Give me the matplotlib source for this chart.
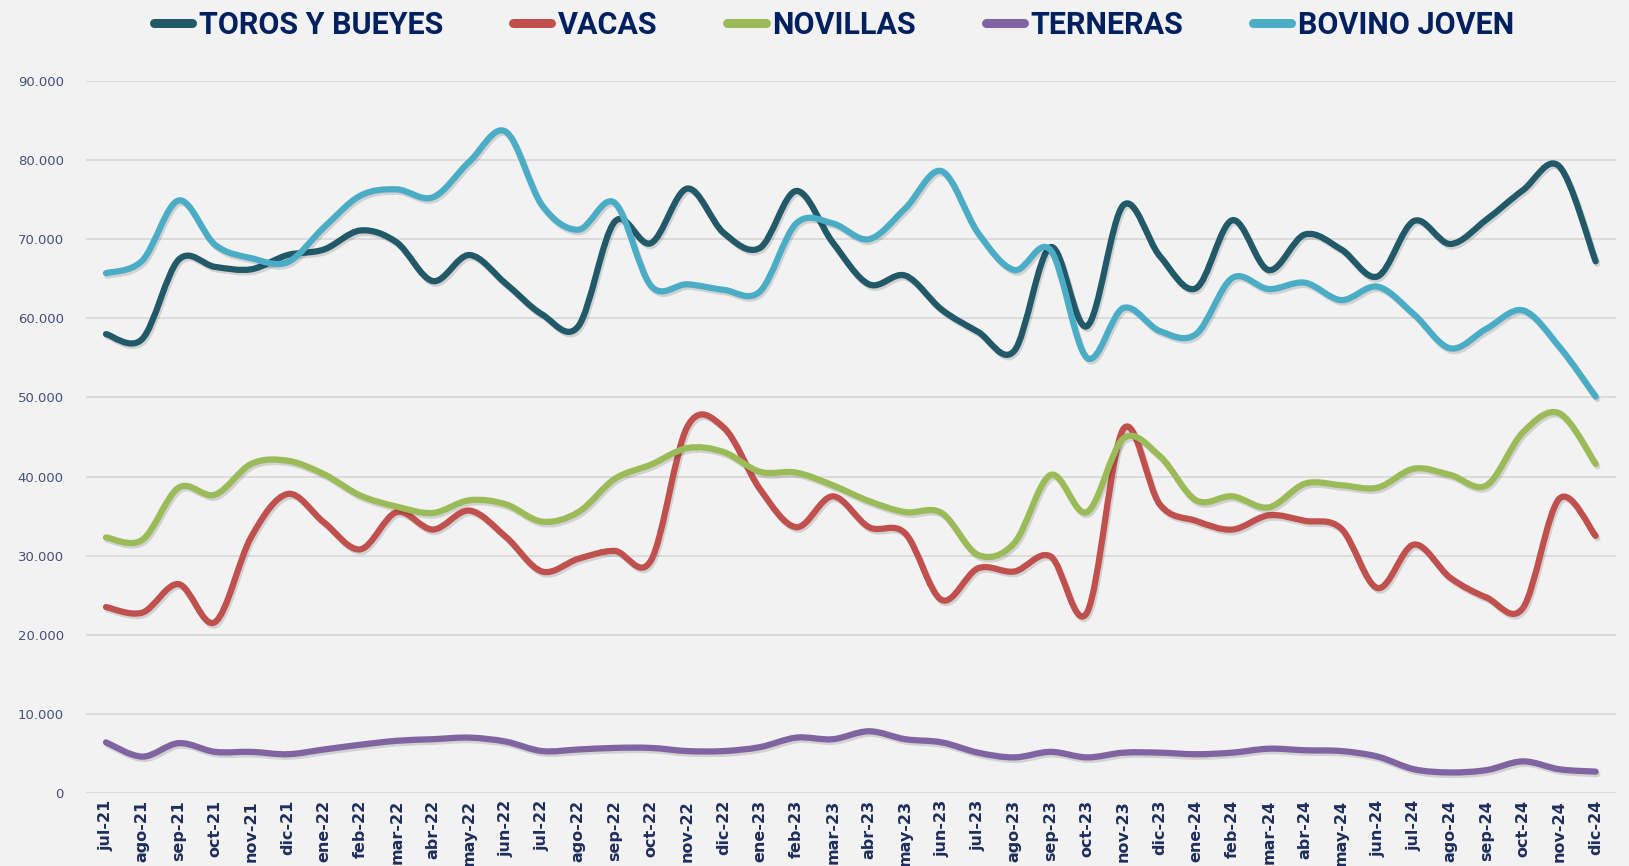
import numpy as np
import matplotlib
matplotlib.use('Agg')
import matplotlib.pyplot as plt
from matplotlib.path import Path
from matplotlib.patches import PathPatch
from matplotlib.lines import Line2D
from matplotlib import patheffects
from matplotlib.ticker import FuncFormatter, MultipleLocator


months = ['jul-21', 'ago-21', 'sep-21', 'oct-21', 'nov-21', 'dic-21',
          'ene-22', 'feb-22', 'mar-22', 'abr-22', 'may-22', 'jun-22',
          'jul-22', 'ago-22', 'sep-22', 'oct-22', 'nov-22', 'dic-22',
          'ene-23', 'feb-23', 'mar-23', 'abr-23', 'may-23', 'jun-23',
          'jul-23', 'ago-23', 'sep-23', 'oct-23', 'nov-23', 'dic-23',
          'ene-24', 'feb-24', 'mar-24', 'abr-24', 'may-24', 'jun-24',
          'jul-24', 'ago-24', 'sep-24', 'oct-24', 'nov-24', 'dic-24']

toros = [58000, 57400, 67400, 66500, 66200, 68000, 68700, 71100, 69600, 64700,
         68000, 64400, 60500, 59000, 72200, 69500, 76400, 70800, 68900, 76100,
         69600, 64300, 65400, 61100, 58300, 55900, 69000, 59000, 74300, 67900,
         63800, 72400, 66100, 70600, 68700, 65300, 72300, 69400, 72500, 76200,
         79200, 67200]

vacas = [23500, 22800, 26400, 21600, 32400, 37800, 34200, 30800, 35500, 33300,
         35700, 32400, 28000, 29600, 30600, 29400, 46300, 46200, 38400, 33600,
         37500, 33600, 32800, 24400, 28400, 28000, 29900, 22800, 46000, 36500,
         34400, 33300, 35100, 34400, 33400, 25900, 31400, 27200, 24700, 23400,
         37200, 32500]

novillas = [32300, 32000, 38600, 37700, 41600, 42000, 40300, 37600, 36200, 35400,
            37000, 36500, 34300, 35500, 39700, 41500, 43600, 43100, 40600, 40500,
            38900, 36900, 35500, 35400, 30100, 31600, 40200, 35500, 44800, 42600,
            37000, 37500, 36100, 39100, 38900, 38600, 41000, 40200, 38900, 45600,
            48000, 41600]

terneras = [6400, 4600, 6300, 5200, 5200, 4900, 5500, 6100, 6600, 6800,
            7000, 6500, 5300, 5500, 5700, 5700, 5300, 5300, 5800, 7000,
            6800, 7800, 6800, 6400, 5100, 4500, 5200, 4500, 5100, 5100,
            4900, 5100, 5600, 5400, 5300, 4600, 3000, 2600, 2900, 4000,
            3000, 2700]

bovino = [65700, 67300, 74900, 69300, 67600, 67100, 71500, 75500, 76300, 75300,
          79800, 83600, 74300, 71200, 74600, 64100, 64300, 63600, 63400, 72000,
          72000, 70000, 73900, 78600, 70800, 66100, 68600, 55000, 61300, 58400,
          58000, 65100, 63700, 64500, 62300, 64000, 60500, 56200, 58700, 61000,
          56400, 50100]

series = [
    ('TOROS Y BUEYES', toros, '#215968'),
    ('VACAS', vacas, '#c0504d'),
    ('NOVILLAS', novillas, '#9bbb59'),
    ('TERNERAS', terneras, '#8064a2'),
    ('BOVINO JOVEN', bovino, '#4bacc6'),
]

BG = '#f2f2f2'


def smooth_path(xs, ys):
    # catmull-rom through the points, like excel's smoothed lines
    pts = np.column_stack([xs, ys]).astype(float)
    padded = np.vstack([pts[0], pts, pts[-1]])
    verts = [pts[0]]
    codes = [Path.MOVETO]
    for i in range(len(pts) - 1):
        p0, p1, p2, p3 = padded[i], padded[i + 1], padded[i + 2], padded[i + 3]
        verts += [p1 + (p2 - p0) / 6, p2 - (p3 - p1) / 6, p2]
        codes += [Path.CURVE4] * 3
    return Path(verts, codes)


fig = plt.figure(figsize=(16.29, 8.66), dpi=100, facecolor=BG)
ax = fig.add_axes([0.0528, 0.0843, 0.939, 0.8222], facecolor=BG)

x = np.arange(len(months))
shadow = [patheffects.SimpleLineShadow(offset=(1.2, -1.8), shadow_color='k', alpha=0.13),
          patheffects.Normal()]

handles = []
for name, vals, color in series:
    patch = PathPatch(smooth_path(x, vals), fill=False, edgecolor=color, lw=4.5,
                      capstyle='round', joinstyle='round', zorder=3,
                      path_effects=shadow)
    ax.add_patch(patch)
    handles.append(Line2D([], [], color=color, lw=6.5, solid_capstyle='round'))

ax.set_xlim(-0.55, len(months) - 0.45)
ax.set_ylim(0, 90000)
ax.yaxis.set_major_locator(MultipleLocator(10000))
ax.yaxis.set_major_formatter(FuncFormatter(lambda v, p: f'{v:,.0f}'.replace(',', '.')))
ax.grid(axis='y', color='#d9d9d9', lw=1.3)
ax.set_axisbelow(True)
for s in ax.spines.values():
    s.set_visible(False)

ax.set_xticks(x)
ax.set_xticklabels(months, rotation=90, fontsize=11.5, fontweight='bold',
                   color='#1f2d5c', va='top', ha='center')
ax.tick_params(axis='x', length=0, pad=5)
ax.tick_params(axis='y', length=0, pad=16, labelsize=9.5, labelcolor='#44507a')

leg = fig.legend(handles, [s[0] for s in series], loc='center', ncol=5,
                 bbox_to_anchor=(0.512, 0.971), frameon=False,
                 handlelength=1.25, handletextpad=0.2, columnspacing=2.3,
                 prop={'family': ['Roboto', 'DejaVu Sans'],
                       'weight': 'bold', 'size': 22})
for t in leg.get_texts():
    t.set_color('#002060')

fig.savefig('out.png', dpi=100, facecolor=BG)
